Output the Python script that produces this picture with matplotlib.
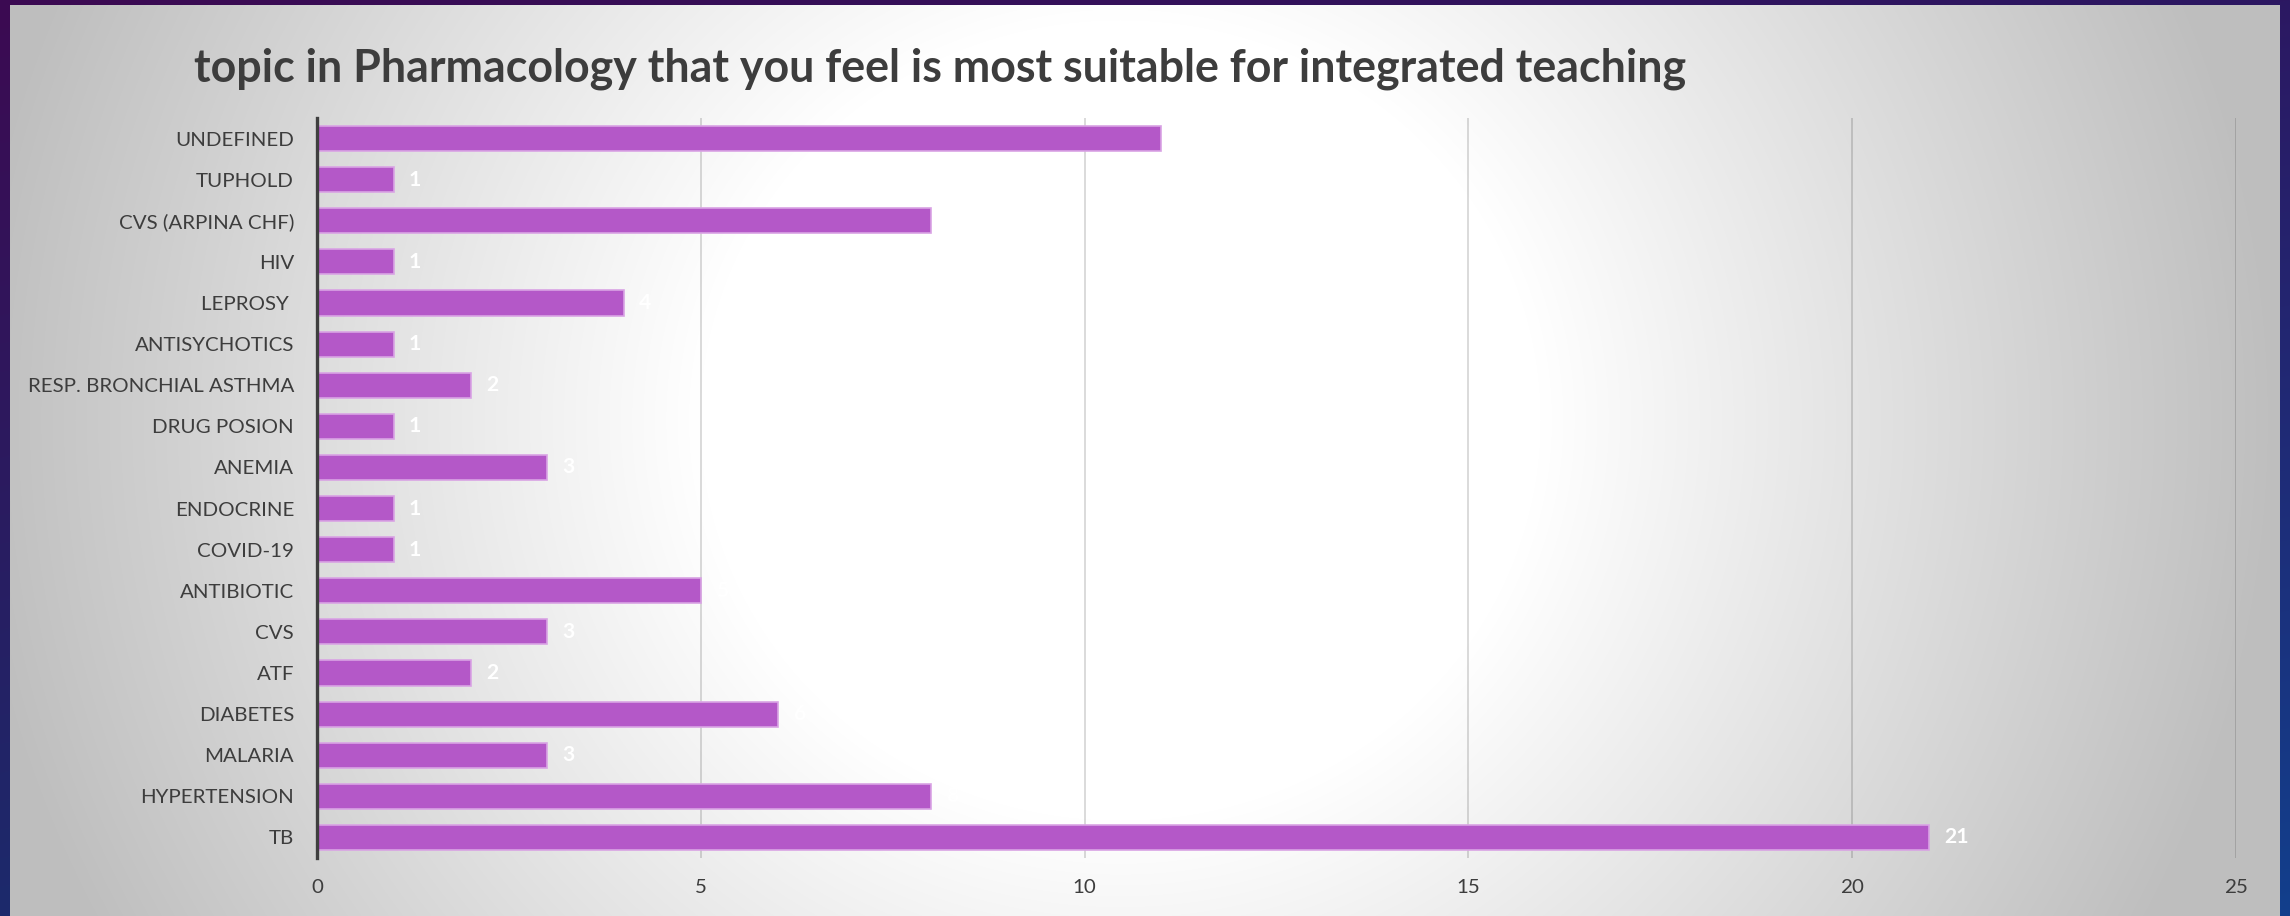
import numpy as np
import matplotlib
matplotlib.use("Agg")
import matplotlib.pyplot as plt
from matplotlib.colors import to_rgb

# ---------------- data ----------------
categories = ["TB", "HYPERTENSION", "MALARIA", "DIABETES", "ATF", "CVS",
              "ANTIBIOTIC", "COVID-19", "ENDOCRINE", "ANEMIA", "DRUG POSION",
              "RESP. BRONCHIAL ASTHMA", "ANTISYCHOTICS", "LEPROSY ", "HIV",
              "CVS (ARPINA CHF)", "TUPHOLD", "UNDEFINED"]
values = [21, 8, 3, 6, 2, 3, 5, 1, 1, 3, 1, 2, 1, 4, 1, 8, 1, 11]
x_ticks = [0, 5, 10, 15, 20, 25]
title = "topic in Pharmacology that you feel is most suitable for integrated teaching"

W, H = 2290, 916
DPI = 100
FONT = "Lato"
TEXT_COLOR = "#3d3d3d"
BAR_COLOR = "#b458c8"
BAR_EDGE = "#d9a3e4"

fig = plt.figure(figsize=(W / DPI, H / DPI), dpi=DPI)

# ---------------- background image ----------------
yy, xx = np.mgrid[0:H, 0:W].astype(float)
u = xx / (W - 1)
v = yy / (H - 1)
tl, tr = np.array(to_rgb("#3c0a52")), np.array(to_rgb("#2c1862"))
bl, br = np.array(to_rgb("#1c2a6c")), np.array(to_rgb("#123f8c"))
img = ((1 - u)[..., None] * (1 - v)[..., None] * tl + u[..., None] * (1 - v)[..., None] * tr
       + (1 - u)[..., None] * v[..., None] * bl + u[..., None] * v[..., None] * br)

# gray panel with radial white highlight
px0, px1, py0 = 10, 2280, 5
r = np.hypot(xx - 1120, (yy - 420) * 1.05)
g = np.clip(255 - 0.088 * (r - 420), 190, 255) / 255.0
panel = (xx >= px0) & (xx < px1) & (yy >= py0)
img[panel] = np.repeat(g[panel][:, None], 3, axis=1)

bg = fig.add_axes([0, 0, 1, 1], zorder=0)
bg.imshow(img, extent=(0, W, H, 0), aspect="auto", interpolation="bilinear")
bg.set_xlim(0, W)
bg.set_ylim(H, 0)
bg.axis("off")

# ---------------- chart axes ----------------
ax_left, ax_right = 317, 2236
ax_top, ax_bottom = 118, 858
ax = fig.add_axes([ax_left / W, 1 - ax_bottom / H,
                   (ax_right - ax_left) / W, (ax_bottom - ax_top) / H], zorder=1)
ax.patch.set_alpha(0)

ypos = np.arange(len(categories))
bars = ax.barh(ypos, values, height=0.61, color=BAR_COLOR, edgecolor=BAR_EDGE,
               linewidth=1.2, zorder=3)

ax.set_xlim(0, 25)
ax.set_ylim(-0.5, len(categories) - 0.5)
ax.set_xticks(x_ticks)
ax.set_xticklabels([str(t) for t in x_ticks])
ax.set_yticks(ypos)
ax.set_yticklabels(categories)

ax.grid(axis="x", color="black", alpha=0.17, linewidth=1.2, zorder=0)
ax.set_axisbelow(True)
for s in ["top", "right", "bottom"]:
    ax.spines[s].set_visible(False)
ax.spines["left"].set_color("#3f3f3f")
ax.spines["left"].set_linewidth(2.4)
ax.spines["left"].set_zorder(4)

ax.tick_params(axis="both", length=0, colors=TEXT_COLOR)
ax.tick_params(axis="y", pad=16.5)
ax.tick_params(axis="x", pad=15)

# fit font sizes by measuring text widths
fig.canvas.draw()
renderer = fig.canvas.get_renderer()

def fit_size(text, target_px, weight="normal", base=20):
    t = fig.text(0, 0, text, fontsize=base, family=FONT, weight=weight)
    w = t.get_window_extent(renderer).width
    t.remove()
    return base * target_px / w

lab_size = fit_size("RESP. BRONCHIAL ASTHMA", 266)
title_size = fit_size(title, 1493, weight="bold")

for lab in ax.get_yticklabels() + ax.get_xticklabels():
    lab.set_fontfamily(FONT)
    lab.set_fontsize(lab_size)
    lab.set_color(TEXT_COLOR)

ax.bar_label(bars, labels=[str(vv) for vv in values], padding=11, color="white",
             fontsize=lab_size * 1.03, fontweight="bold", family=FONT)

fig.text(194 / W, 1 - 82 / H, title, ha="left", va="baseline", family=FONT,
         fontsize=title_size, fontweight="bold", color=TEXT_COLOR)

fig.savefig("out.png", dpi=DPI)
